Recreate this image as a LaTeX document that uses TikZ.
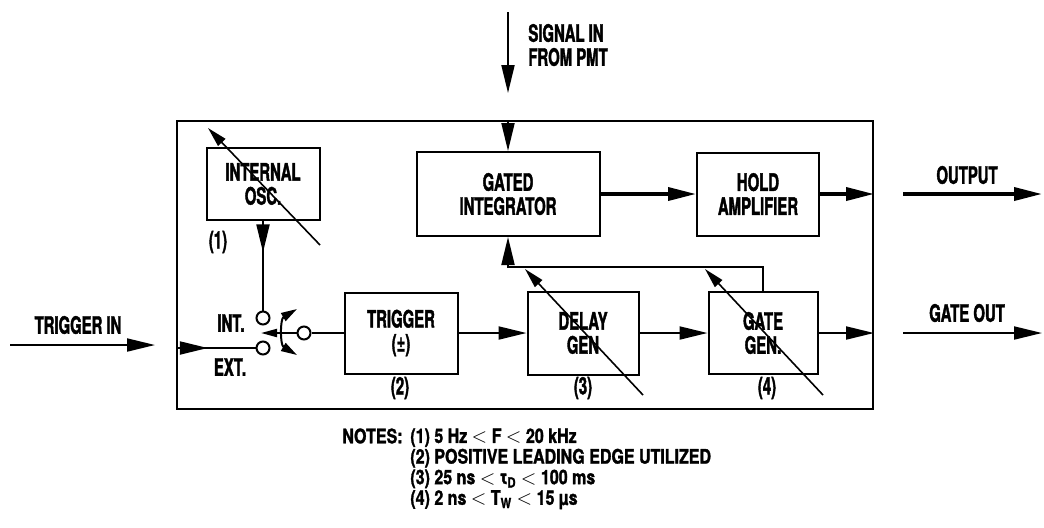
\documentclass[tikz,border=0pt]{standalone}
\usepackage{fontspec}
\setmainfont{TeX Gyre Heros}[FakeStretch=0.62, BoldFeatures={FakeBold=1.6}]
\newfontfamily\notefont{TeX Gyre Heros}[FakeStretch=0.8, BoldFeatures={FakeBold=1.5}]
\usepackage{tikz}
\usetikzlibrary{arrows.meta, positioning, fit, calc, decorations.markings}
\tikzset{
    block/.style={
        rectangle,
        draw=black,
        line width=1pt,
        align=center,
        inner sep=1pt,
        font=\fontsize{12}{12}\selectfont\bfseries
    },
    contact/.style={
        circle,
        draw=black,
        line width=1pt,
        minimum size=6.5pt,
        inner sep=0pt
    },
    connection/.style={
        draw=black,
        line width=1pt,
        -{Triangle[length=14pt,width=6.5pt]}
    },
    bus/.style={
        connection,
        line width=1.8pt
    },
    wire/.style={
        draw=black,
        line width=1pt
    },
    midarrow/.style={
        wire,
        postaction={decorate},
        decoration={markings, mark=at position #1 with {\arrow{Triangle[length=14pt,width=6.5pt]}}}
    },
    midarrow/.default=0.5,
    adjust/.style={
        draw=black,
        line width=0.8pt,
        -{Triangle[length=10pt,width=5pt]}
    },
    lbl/.style={
        align=center,
        inner sep=0pt,
        font=\fontsize{12}{12}\selectfont\bfseries
    },
    note/.style={
        align=left,
        inner sep=0pt,
        font=\notefont\fontsize{10}{10.3}\selectfont\bfseries
    }
}

\begin{document}
\begin{tikzpicture}[x=0.5pt, y=-0.5pt]
\useasboundingbox (0,0) rectangle (1044,527);

% Chassis outline
\coordinate (ul) at (177,121);
\coordinate (lr) at (873,409);
\node[draw=black, line width=1pt, fit=(ul)(lr), inner sep=0pt] (unit) {};

% Blocks
\node[block, minimum width=56.5pt, minimum height=36pt] (osc) at (263,184) {INTERNAL\\OSC.};
\node[block, minimum width=91.5pt, minimum height=42pt] (integ) at (508,194) {GATED\\INTEGRATOR};
\node[block, minimum width=61pt, minimum height=41.5pt] (hold) at (758,194) {HOLD\\AMPLIFIER};
\node[block, minimum width=56.5pt, minimum height=40.5pt] (trig) at (401,333) {TRIGGER\\(±)};
\node[block, minimum width=55.5pt, minimum height=41.5pt] (delay) at (583,333) {DELAY\\GEN};
\node[block, minimum width=54.5pt, minimum height=41pt] (gate) at (763,333) {GATE\\GEN.};

% Note numbers
\node[lbl] (num1) at (218,242) {(1)};
\node[lbl] (num2) at (400,388) {(2)};
\node[lbl] (num3) at (583,388) {(3)};
\node[lbl] (num4) at (767,388) {(4)};

% Trigger selector switch
\node[contact] (intc) at (263,318) {};
\node[contact] (extc) at (263,348) {};
\node[contact] (comc) at (304,333) {};
\coordinate (arm) at (261,333);
\node[lbl] (intlbl) at (231,323) {INT.};
\node[lbl] (extlbl) at (230,367) {EXT.};

\draw[midarrow=0.35] (osc) -- (intc);
\draw[midarrow=0.4] (unit.west |- extc) -- (extc);
\draw[wire, -{Triangle[length=8pt,width=4pt]}] (comc) -- (arm);
\draw[wire, {Triangle[length=8pt,width=4.5pt]}-{Triangle[length=8pt,width=4.5pt]}] (297,309) .. controls (280,319) and (280,345) .. (297,355);
\draw[wire] (comc) -- (trig);

% Signal path
\draw[connection] (trig) -- (delay);
\draw[connection] (delay) -- (gate);
\draw[connection] (gate.east) -- (gate.east -| unit.east);
\draw[bus] (integ) -- (hold);
\draw[bus] (hold.east) -- (hold.east -| unit.east);
\draw[connection] (gate.north) -- ++(0,-24) -| (integ.south);
\draw[connection] (integ.north |- unit.north) -- (integ.north);

% Variable settings
\draw[adjust] (320,245) -- (208,128);
\draw[adjust] (643,395) -- (525,269);
\draw[adjust] (823,395) -- (705,269);

% Inputs
\coordinate (pmt) at (508,12);
\coordinate (pmtend) at (508,93);
\draw[connection] (pmt) -- (pmtend);
\node[lbl, anchor=west, align=left] (pmtlbl) at (528,45) {SIGNAL IN\\FROM PMT};

\coordinate (trigin) at (10,345);
\coordinate (trigend) at (155,345);
\draw[connection] (trigin) -- (trigend);
\node[lbl] (triglbl) at (78,325) {TRIGGER IN};

% Outputs
\coordinate (outa) at (903,194);
\coordinate (outb) at (1042,194);
\draw[bus] (outa) -- (outb);
\node[lbl] (outlbl) at (967,175) {OUTPUT};

\coordinate (gatea) at (903,333);
\coordinate (gateb) at (1042,333);
\draw[connection] (gatea) -- (gateb);
\node[lbl] (gatelbl) at (967,313) {GATE OUT};

% Notes
\node[note, anchor=east] (notes) at (403,436) {NOTES:};
\node[note, anchor=north west] (notelist) at (410,428) {(1) 5 Hz $<$ F $<$ 20 kHz\\(2) POSITIVE LEADING EDGE UTILIZED\\(3) 25 ns $<$ τ\textsubscript{D} $<$ 100 ms\\(4) 2 ns $<$ T\textsubscript{W} $<$ 15 µs};

\end{tikzpicture}
\end{document}
